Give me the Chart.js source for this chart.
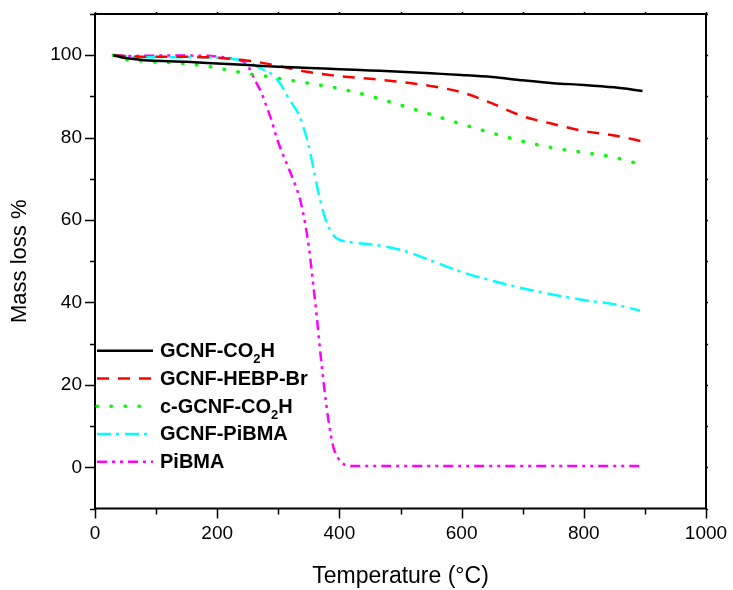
<!DOCTYPE html>
<html>
<head>
<meta charset="utf-8">
<script src="https://cdn.jsdelivr.net/npm/chart.js@4"></script>
<style>
  html, body { margin: 0; padding: 0; background: #fff; }
  #wrap { width: 733px; height: 590px; }
</style>
</head>
<body>
<div id="wrap"><canvas id="c" width="733" height="590"></canvas></div>
<script>
// TGA curves, temperature (C) vs mass (%)
const co2hT    = [30, 50, 80, 150, 200, 250, 300, 350, 400, 450, 500, 550, 600, 650, 700, 750, 800, 850, 896];
const co2hMass = [100, 99.3, 98.8, 98.4, 98.0, 97.6, 97.2, 96.9, 96.6, 96.3, 96.0, 95.6, 95.2, 94.7, 93.9, 93.2, 92.8, 92.2, 91.3];

const hebpT    = [30, 60, 100, 150, 200, 230, 260, 300, 350, 400, 450, 500, 550, 600, 650, 700, 750, 800, 850, 896];
const hebpMass = [100, 99.7, 99.6, 99.6, 99.4, 99.0, 98.5, 97.4, 95.9, 94.9, 94.3, 93.5, 92.5, 91.0, 88.3, 85.2, 83.3, 81.6, 80.5, 79.1];

const cco2hT    = [30, 50, 75, 100, 125, 150, 175, 200, 225, 250, 275, 300, 350, 400, 450, 500, 550, 600, 650, 700, 750, 800, 850, 890];
const cco2hMass = [100, 99.0, 98.6, 98.3, 98.2, 97.9, 97.5, 96.9, 96.2, 95.5, 95.0, 94.4, 93.2, 91.9, 90.1, 87.9, 85.6, 83.3, 81.1, 79.1, 77.5, 76.4, 75.2, 73.6];

const gpibmaT    = [30, 60, 100, 150, 200, 230, 250, 270, 290, 303, 319, 333, 341, 349, 357, 366, 376, 385, 396, 417, 461, 502, 551, 600, 652, 701, 750, 799, 848, 892];
const gpibmaMass = [100, 99.6, 99.5, 99.5, 99.4, 99.0, 98.4, 96.9, 95.3, 93.1, 89.0, 85.8, 82.6, 78.5, 72.9, 66.4, 60.8, 57.5, 55.5, 54.7, 53.9, 52.7, 50.1, 47.4, 45.2, 43.4, 41.9, 40.6, 39.6, 38.0];

const pibmaT    = [30, 60, 100, 150, 200, 215, 232, 248, 262, 273, 281, 289, 297, 306, 316, 327, 336, 344, 350, 357, 363, 369, 375, 382, 390, 398, 409, 423, 500, 600, 700, 800, 893];
const pibmaMass = [100, 99.8, 99.9, 99.9, 99.7, 99.4, 99.0, 97.9, 93.9, 90.7, 87.4, 84.2, 80.1, 76.5, 72.9, 68.8, 64.8, 59.1, 53.5, 44.6, 36.5, 27.6, 19.5, 11.5, 5.0, 2.2, 0.6, 0.3, 0.3, 0.3, 0.3, 0.3, 0.3];

// legend labels: [main, subscript, rest]
const seriesNames = [
  ['GCNF-CO', '2', 'H'],
  ['GCNF-HEBP-Br', '', ''],
  ['c-GCNF-CO', '2', 'H'],
  ['GCNF-PiBMA', '', ''],
  ['PiBMA', '', '']
];
const seriesColors = ['#000000', '#ff0000', '#00ff00', '#00ffff', '#ff00ff'];
const seriesDash = [[], [12, 9], [0.5, 13.5], [14, 5, 3, 6], [10, 5, 3, 5, 3, 5]];

const xTicks = [0, 200, 400, 600, 800, 1000];
const yTicks = [0, 20, 40, 60, 80, 100];

const FONT = '"Liberation Sans", Arial, sans-serif';

function pts(xs, ys) { return xs.map((x, i) => ({ x: x, y: ys[i] })); }

const series = [
  pts(co2hT, co2hMass),
  pts(hebpT, hebpMass),
  pts(cco2hT, cco2hMass),
  pts(gpibmaT, gpibmaMass),
  pts(pibmaT, pibmaMass)
];

const datasets = series.map((d, i) => ({
  label: seriesNames[i].join(''),
  data: d,
  borderColor: seriesColors[i],
  borderWidth: i === 2 ? 3.5 : 2.5,
  borderDash: seriesDash[i],
  borderCapStyle: i === 2 ? 'round' : 'butt',
  pointRadius: 0,
  fill: false,
  cubicInterpolationMode: 'monotone'
}));

// frame, tick marks and the legend are drawn by hand
const framePlugin = {
  id: 'frame',
  afterDraw(chart) {
    const ctx = chart.ctx;
    const a = chart.chartArea;
    const xs = chart.scales.x, ys = chart.scales.y;
    ctx.save();
    ctx.strokeStyle = '#000';
    ctx.lineWidth = 2;
    ctx.setLineDash([]);
    ctx.strokeRect(a.left, a.top, a.right - a.left, a.bottom - a.top);

    ctx.lineWidth = 1.5;
    ctx.beginPath();
    for (let v = 0; v <= 1000; v += 100) {
      const px = Math.round(xs.getPixelForValue(v)) + 0.5;
      const major = v % 200 === 0;
      ctx.moveTo(px, a.bottom);
      ctx.lineTo(px, a.bottom + (major ? 10 : 6));
      ctx.moveTo(px, a.top);
      ctx.lineTo(px, a.top - 2);
    }
    for (let v = -10; v <= 110; v += 10) {
      const py = Math.round(ys.getPixelForValue(v)) + 0.5;
      const major = v % 20 === 0;
      ctx.moveTo(a.left, py);
      ctx.lineTo(a.left - (major ? 10 : 5), py);
      ctx.moveTo(a.right, py);
      ctx.lineTo(a.right + 2, py);
    }
    ctx.stroke();

    // legend
    const lx0 = 97, lx1 = 153, tx = 160;
    seriesNames.forEach((nm, i) => {
      const y = 350.7 + i * 27.75;
      ctx.strokeStyle = seriesColors[i];
      ctx.lineWidth = i === 2 ? 3.5 : 2.5;
      ctx.lineCap = i === 2 ? 'round' : 'butt';
      ctx.setLineDash(seriesDash[i]);
      ctx.beginPath();
      ctx.moveTo(lx0, y);
      ctx.lineTo(lx1, y);
      ctx.stroke();
      ctx.setLineDash([]);
      ctx.fillStyle = '#000';
      ctx.textBaseline = 'middle';
      ctx.textAlign = 'left';
      ctx.font = 'bold 20px ' + FONT;
      let x = tx;
      ctx.fillText(nm[0], x, y + 1);
      x += ctx.measureText(nm[0]).width;
      if (nm[1]) {
        ctx.font = 'bold 13px ' + FONT;
        ctx.fillText(nm[1], x, y + 9);
        x += ctx.measureText(nm[1]).width;
        ctx.font = 'bold 20px ' + FONT;
        ctx.fillText(nm[2], x, y + 1);
      }
    });
    ctx.restore();
  }
};

new Chart(document.getElementById('c'), {
  type: 'line',
  data: { datasets: datasets },
  plugins: [framePlugin],
  options: {
    responsive: false,
    animation: false,
    devicePixelRatio: 1,
    layout: { padding: { top: 14, right: 27, left: 0, bottom: 0 } },
    plugins: {
      legend: { display: false },
      tooltip: { enabled: false }
    },
    scales: {
      x: {
        type: 'linear',
        min: 0,
        max: 1000,
        afterFit(s) { s.height = 81.5; s.paddingLeft = 0; s.paddingRight = 0; },
        afterBuildTicks(s) { s.ticks = xTicks.map(v => ({ value: v })); },
        grid: { display: false, drawTicks: false },
        border: { display: false },
        ticks: {
          autoSkip: false,
          maxRotation: 0,
          padding: 14,
          color: '#000',
          font: { family: FONT, size: 19 },
          callback: v => String(v)
        },
        title: {
          display: true,
          text: 'Temperature (°C)',
          color: '#000',
          font: { family: FONT, size: 23 },
          padding: { top: 0, bottom: 0 }
        }
      },
      y: {
        type: 'linear',
        min: -10,
        max: 110,
        afterFit(s) { s.width = 95; s.paddingTop = 0; s.paddingBottom = 0; },
        afterBuildTicks(s) { s.ticks = yTicks.map(v => ({ value: v })); },
        grid: { display: false, drawTicks: false },
        border: { display: false },
        ticks: {
          autoSkip: false,
          padding: 13,
          color: '#000',
          font: { family: FONT, size: 19 },
          callback: v => String(v)
        },
        title: {
          display: true,
          text: 'Mass loss %',
          color: '#000',
          font: { family: FONT, size: 22 },
          padding: { top: 7, bottom: 0 }
        }
      }
    }
  }
});
</script>
</body>
</html>
